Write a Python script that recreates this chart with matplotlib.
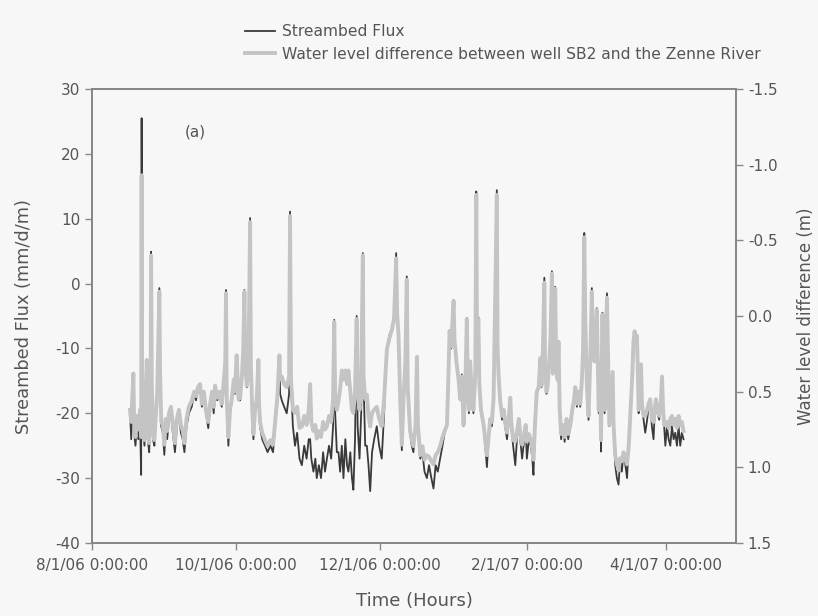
import matplotlib
matplotlib.use("Agg")
import matplotlib.pyplot as plt
import matplotlib.dates as mdates
import pandas as pd

plt.rcParams["axes.unicode_minus"] = False

# days after 8/1/06 0:00, flux (mm/d/m), water level difference (m)
day_offsets = [
    16.1, 16.6, 17.0, 17.5, 17.8, 18.4, 19.0, 19.6, 20.3, 20.8,
    21.0, 21.2, 21.6, 22.2, 22.8, 23.2, 23.6, 24.2, 24.8, 25.0,
    25.3, 25.8, 26.4, 27.0, 27.6, 28.1, 28.5, 28.8, 29.3, 30.0,
    30.6, 31.2, 31.8, 32.6, 33.4, 34.2, 35.1, 35.9, 36.8, 37.6,
    38.4, 39.1, 40.0, 41.0, 42.2, 43.2, 44.0, 44.8, 45.7, 46.5,
    47.3, 48.2, 49.2, 50.0, 50.8, 51.5, 52.1, 53.0, 54.0, 54.9,
    55.8, 56.4, 56.7, 57.0, 57.7, 58.4, 59.2, 60.0, 60.5, 61.2,
    62.0, 62.7, 63.5, 64.0, 64.5, 64.9, 65.5, 66.2, 66.9, 67.2,
    67.8, 68.3, 69.0, 69.7, 70.4, 70.7, 71.1, 72.0, 73.2, 74.3,
    75.5, 76.6, 77.5, 78.5, 79.3, 79.6, 80.3, 81.3, 82.4, 83.4,
    83.8, 84.2, 85.0, 85.9, 86.8, 87.8, 88.8, 89.8, 90.8, 91.7,
    92.3, 92.8, 93.7, 94.5, 95.1, 96.0, 96.9, 97.8, 98.6, 99.4,
    100.3, 101.2, 102.0, 102.5, 102.9, 103.6, 104.3, 105.0, 105.7, 106.4,
    107.2, 107.9, 108.5, 109.3, 110.0, 110.6, 111.3, 112.0, 112.4, 113.2,
    113.9, 114.6, 114.9, 115.6, 116.3, 117.0, 117.7, 118.5, 119.4, 120.5,
    121.5, 122.6, 123.6, 124.4, 124.8, 125.8, 126.9, 127.8, 128.7, 129.1,
    129.7, 130.4, 131.1, 131.8, 132.6, 133.2, 133.6, 134.6, 135.3, 136.0,
    136.9, 137.5, 137.9, 138.9, 139.8, 140.7, 141.7, 142.6, 143.6, 144.5,
    145.4, 146.3, 147.3, 148.3, 149.2, 150.2, 150.8, 151.3, 152.0, 152.5,
    153.0, 153.4, 154.2, 155.1, 155.8, 156.5, 157.2, 157.9, 158.6, 159.0,
    159.5, 160.0, 160.7, 161.4, 162.2, 162.6, 162.9, 163.5, 163.9, 164.6,
    165.7, 166.4, 167.1, 167.8, 168.5, 169.2, 169.9, 170.6, 171.3, 171.6,
    172.0, 172.7, 173.5, 174.2, 174.8, 175.6, 176.4, 177.0, 177.4, 178.2,
    179.1, 180.0, 180.6, 181.2, 182.0, 182.9, 183.5, 184.0, 184.9, 185.7,
    186.3, 186.8, 187.5, 188.2, 189.0, 189.7, 190.2, 190.8, 191.4, 191.7,
    192.3, 192.8, 193.5, 194.0, 194.6, 195.0, 195.5, 196.0, 196.4, 197.0,
    197.4, 197.9, 198.5, 199.2, 200.0, 200.8, 201.5, 202.4, 203.2, 204.0,
    204.5, 205.2, 205.9, 206.6, 207.3, 207.8, 208.3, 208.7, 209.4, 210.1,
    210.8, 211.5, 211.9, 212.6, 213.6, 214.0, 214.4, 215.0, 215.4, 215.7,
    216.0, 216.4, 216.9, 217.4, 217.9, 218.3, 218.9, 219.6, 220.3, 220.7,
    221.4, 222.1, 222.8, 223.5, 224.2, 224.9, 225.7, 226.4, 227.1, 227.8,
    228.6, 229.1, 229.6, 230.1, 230.6, 231.0, 231.3, 231.8, 232.3, 232.7,
    233.4, 234.1, 234.9, 235.5, 236.2, 236.9, 237.6, 238.1, 238.6, 239.3,
    240.0, 240.7, 241.2, 241.6, 242.1, 242.6, 243.3, 244.0, 244.7, 245.4,
    246.1, 246.8, 247.5, 248.2, 248.9, 249.6, 250.3,
]

flux = [
    -20, -24, -19, -14, -23, -25, -22, -24, -21, -29.5,
    25.5, -12, -22, -25, -20, -11.8, -24, -26, -18, 4.9,
    -15, -24, -25, -21, -17, -8, -0.7, -14, -22, -23,
    -26.4, -22, -24, -21, -19.8, -23, -26, -22, -20, -23,
    -24, -26, -22, -20, -19, -17, -18, -16.5, -16, -19,
    -17, -20, -22.3, -19, -17, -20, -16, -18, -17, -19,
    -15, -12, -1, -18, -25, -20, -18, -15, -17, -11,
    -18, -18, -14, -10, -1, -13, -16, -14, 10.1, -12,
    -20, -24, -20, -18, -11.8, -19, -22, -24, -25, -26,
    -25, -26, -22, -18, -11.2, -17, -18, -19, -20, -17,
    11.1, -15, -22, -25, -23, -27, -28, -25, -27, -24,
    -24, -27, -29, -27, -30, -28, -30, -26, -29, -27,
    -25, -27, -22, -5.6, -20, -26, -26, -29, -25, -30,
    -24, -28, -29, -26, -30, -31.8, -24, -5, -22, -27,
    -20, 4.7, -15, -25, -25, -28, -32, -26, -24, -22,
    -25, -27, -20, -12, -10, -8, -7, -5, 4.7, -4,
    -8, -18, -25.7, -18, -12, 1.1, -16, -23, -25, -26,
    -22, -11.3, -22, -27, -26, -29, -30, -28, -30, -31.6,
    -28, -29, -27, -25, -23, -22, -14, -7.2, -10, -6,
    -2.5, -9, -12, -15, -18, -14, -22, -17, -5.3, -15,
    -20, -12, -17, -20, -14, 14.2, -8, -5.2, -15, -20,
    -22, -25, -28.3, -24, -21, -22, -18, -2, 14.4, -10,
    -14, -18, -21, -20, -22, -24, -21, -18, -22, -25,
    -28, -23, -21, -24, -27, -24, -22, -27, -24, -25,
    -27, -29.5, -22, -17, -16, -11.4, -16, -10, 0.9, -12,
    -17, -16, -12, -8, 1.9, -14, -10, -0.5, -12, -15,
    -8.9, -20, -24, -22, -24.4, -21, -24, -22, -20, -18,
    -16, -19, -17, -19, -15, -10, 7.8, -5, -16, -21,
    -12, -0.7, -8, -12, -3.8, -12, -20, -16, -25.9, -12,
    -4.5, -12, -20, -10, -1.5, -10, -22, -18, -13.6, -22,
    -28, -30, -31, -27, -29, -26, -28, -30, -25, -20,
    -14, -9, -7.7, -9, -8, -14, -20, -17, -12.4, -19,
    -21, -23, -21, -19, -18, -22, -24, -20, -18, -20,
    -21, -18, -14.3, -19, -22, -25, -22, -24, -25, -22,
    -24, -23, -25, -22, -25, -23, -24,
]

water_level = [
    0.62, 0.70, 0.55, 0.38, 0.68, 0.80, 0.66, 0.75, 0.62, 0.80,
    -0.93, 0.30, 0.68, 0.82, 0.60, 0.29, 0.77, 0.84, 0.52, -0.40,
    0.45, 0.78, 0.82, 0.66, 0.50, 0.13, -0.16, 0.38, 0.70, 0.72,
    0.85, 0.68, 0.76, 0.64, 0.60, 0.72, 0.84, 0.68, 0.62, 0.72,
    0.76, 0.84, 0.68, 0.60, 0.56, 0.50, 0.53, 0.47, 0.45, 0.58,
    0.50, 0.62, 0.70, 0.58, 0.50, 0.60, 0.46, 0.54, 0.50, 0.58,
    0.42, 0.30, -0.15, 0.54, 0.80, 0.62, 0.54, 0.42, 0.50, 0.26,
    0.55, 0.54, 0.38, 0.22, -0.16, 0.34, 0.46, 0.38, -0.62, 0.30,
    0.62, 0.78, 0.62, 0.55, 0.29, 0.58, 0.70, 0.77, 0.82, 0.86,
    0.82, 0.85, 0.70, 0.52, 0.26, 0.42, 0.40, 0.45, 0.47, 0.40,
    -0.66, 0.42, 0.62, 0.64, 0.60, 0.74, 0.73, 0.66, 0.72, 0.62,
    0.45, 0.70, 0.76, 0.72, 0.81, 0.76, 0.80, 0.70, 0.75, 0.73,
    0.66, 0.70, 0.55, 0.04, 0.52, 0.62, 0.56, 0.48, 0.36, 0.42,
    0.36, 0.45, 0.36, 0.50, 0.62, 0.64, 0.50, 0.02, 0.50, 0.62,
    0.45, -0.40, 0.40, 0.55, 0.52, 0.66, 0.73, 0.64, 0.62, 0.60,
    0.68, 0.73, 0.55, 0.32, 0.22, 0.15, 0.09, 0.02, -0.38, -0.02,
    0.13, 0.54, 0.85, 0.55, 0.30, -0.24, 0.47, 0.76, 0.82, 0.86,
    0.72, 0.27, 0.72, 0.92, 0.86, 0.95, 0.92, 0.93, 0.96, 0.98,
    0.92, 0.90, 0.86, 0.80, 0.76, 0.72, 0.40, 0.10, 0.20, 0.04,
    -0.10, 0.16, 0.30, 0.42, 0.55, 0.40, 0.72, 0.52, 0.02, 0.45,
    0.62, 0.30, 0.50, 0.62, 0.38, -0.80, 0.13, 0.02, 0.45, 0.62,
    0.72, 0.82, 0.92, 0.80, 0.68, 0.70, 0.55, -0.10, -0.80, 0.20,
    0.38, 0.56, 0.66, 0.62, 0.70, 0.77, 0.66, 0.54, 0.70, 0.82,
    0.83, 0.75, 0.68, 0.78, 0.85, 0.78, 0.72, 0.83, 0.78, 0.82,
    0.88, 0.95, 0.70, 0.50, 0.47, 0.28, 0.46, 0.22, -0.22, 0.30,
    0.50, 0.46, 0.30, 0.14, -0.28, 0.38, 0.22, -0.18, 0.30, 0.42,
    0.17, 0.62, 0.78, 0.72, 0.80, 0.68, 0.78, 0.72, 0.62, 0.55,
    0.47, 0.58, 0.50, 0.58, 0.42, 0.22, -0.52, 0.00, 0.46, 0.66,
    0.30, -0.16, 0.13, 0.30, -0.04, 0.30, 0.62, 0.46, 0.82, 0.30,
    -0.01, 0.30, 0.62, 0.22, -0.12, 0.22, 0.72, 0.55, 0.37, 0.72,
    0.92, 0.98, 1.02, 0.94, 0.96, 0.90, 0.95, 0.98, 0.86, 0.64,
    0.40, 0.17, 0.10, 0.17, 0.13, 0.40, 0.62, 0.52, 0.32, 0.58,
    0.66, 0.66, 0.62, 0.58, 0.55, 0.68, 0.70, 0.62, 0.55, 0.62,
    0.66, 0.56, 0.40, 0.60, 0.72, 0.72, 0.70, 0.74, 0.68, 0.66,
    0.72, 0.68, 0.74, 0.66, 0.72, 0.70, 0.76,
]

tick_dates = ["2006-08-01", "2006-10-01", "2006-12-01", "2007-02-01", "2007-04-01"]
tick_labels = ["8/1/06 0:00:00", "10/1/06 0:00:00", "12/1/06 0:00:00",
               "2/1/07 0:00:00", "4/1/07 0:00:00"]
flux_ticks = [30, 20, 10, 0, -10, -20, -30, -40]
wl_ticks = [-1.5, -1.0, -0.5, 0.0, 0.5, 1.0, 1.5]

start = pd.Timestamp("2006-08-01")
dates = mdates.date2num(start + pd.to_timedelta(day_offsets, unit="D"))

bg = "#f7f7f7"
txt = "#555555"
spine_col = "#888888"

fig = plt.figure(figsize=(8.18, 6.16), dpi=100, facecolor=bg)
ax = fig.add_axes([92 / 818, 73 / 616, 644 / 818, 454 / 616])
ax.set_facecolor(bg)
ax2 = ax.twinx()

l1, = ax.plot(dates, flux, color="#3a3a3a", lw=1.3, label="Streambed Flux")
l2, = ax2.plot(dates, water_level, color="#c4c4c4", lw=2.8,
               label="Water level difference between well SB2 and the Zenne River")

ax.set_xlim(mdates.date2num(pd.Timestamp("2006-08-01")),
            mdates.date2num(pd.Timestamp("2007-04-30 12:00")))
ax.set_ylim(-40, 30)
ax2.set_ylim(1.5, -1.5)

ax.set_xticks(mdates.date2num(pd.to_datetime(tick_dates)))
ax.set_xticklabels(tick_labels)
ax.set_yticks(flux_ticks)
ax2.set_yticks(wl_ticks)
ax2.set_yticklabels(["%.1f" % v for v in wl_ticks])

for a in (ax, ax2):
    for s in a.spines.values():
        s.set_color(spine_col)
        s.set_linewidth(1.3)
    a.tick_params(colors=spine_col, labelcolor=txt, labelsize=11,
                  direction="out", length=5, width=1)
ax.tick_params(axis="x", pad=6)

ax.set_xlabel("Time (Hours)", fontsize=13, color=txt)
ax.xaxis.set_label_coords(0.5, -0.108)
ax.set_ylabel("Streambed Flux (mm/d/m)", fontsize=12.8, color=txt)
ax.yaxis.set_label_coords(-0.092, 0.5)
ax2.set_ylabel("Water level difference (m)", fontsize=12, color=txt)
ax2.yaxis.set_label_coords(1.094, 0.5)

ax.text(195, 616 - 132, "(a)", transform=None, fontsize=11, color=txt,
        ha="center", va="center")

fig.legend([l1, l2], [l1.get_label(), l2.get_label()], loc="upper left",
           bbox_to_anchor=(245 / 818, 1 - 24 / 616), frameon=False,
           fontsize=11.2, handlelength=1.9, handletextpad=0.5,
           labelspacing=0.5, borderpad=0, borderaxespad=0, labelcolor=txt)

fig.savefig("out.png", dpi=100, facecolor=bg)
